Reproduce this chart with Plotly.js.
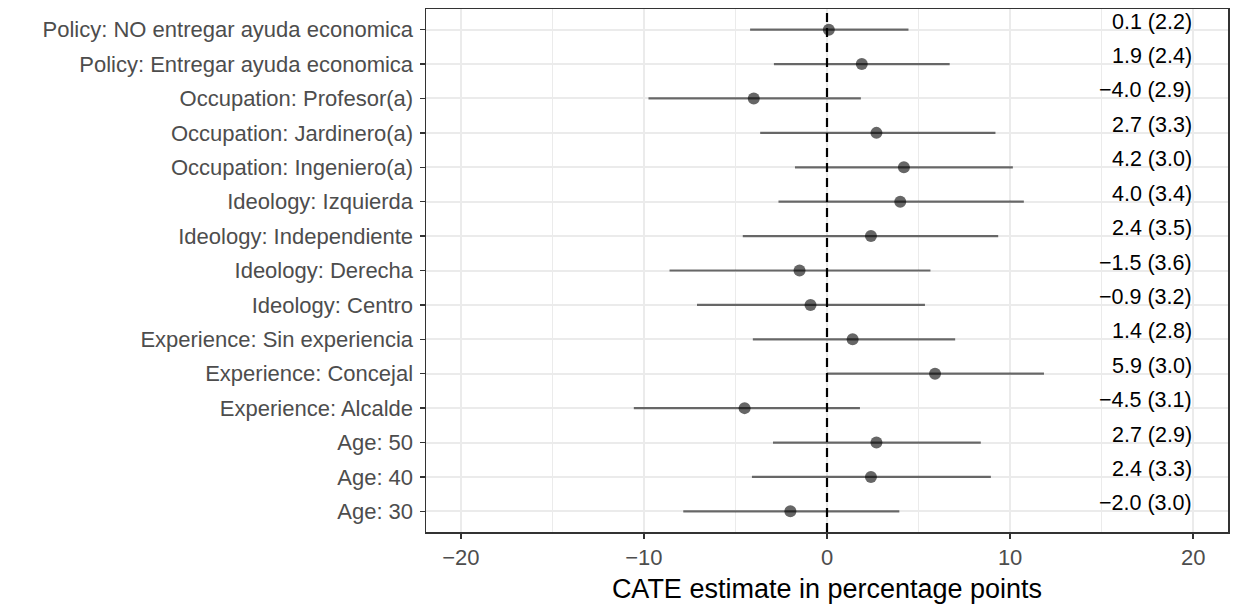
<!DOCTYPE html>
<html>
<head>
<meta charset="utf-8">
<script src="https://cdn.plot.ly/plotly-3.0.1.min.js"></script>
<style>
  html, body { margin: 0; padding: 0; background: #ffffff; }
  #chart { width: 1233px; height: 609px; }
</style>
</head>
<body>
<div id="chart"></div>
<script>
// Categories, top to bottom as shown
const categories = [
  "Policy: NO entregar ayuda economica",
  "Policy: Entregar ayuda economica",
  "Occupation: Profesor(a)",
  "Occupation: Jardinero(a)",
  "Occupation: Ingeniero(a)",
  "Ideology: Izquierda",
  "Ideology: Independiente",
  "Ideology: Derecha",
  "Ideology: Centro",
  "Experience: Sin experiencia",
  "Experience: Concejal",
  "Experience: Alcalde",
  "Age: 50",
  "Age: 40",
  "Age: 30"
];
// CATE point estimates (percentage points)
const estimate = [0.1, 1.9, -4.0, 2.7, 4.2, 4.0, 2.4, -1.5, -0.9, 1.4, 5.9, -4.5, 2.7, 2.4, -2.0];
// standard errors shown in the labels
const stdError = [2.2, 2.4, 2.9, 3.3, 3.0, 3.4, 3.5, 3.6, 3.2, 2.8, 3.0, 3.1, 2.9, 3.3, 3.0];
// interval ends
const lower = [-4.2, -2.9, -9.75, -3.65, -1.75, -2.65, -4.6, -8.6, -7.1, -4.05, 0.0, -10.55, -2.95, -4.1, -7.85];
const upper = [4.45, 6.7, 1.85, 9.2, 10.15, 10.75, 9.35, 5.65, 5.35, 7.0, 11.85, 1.8, 8.4, 8.95, 3.95];
// x tick values
const xTicks = [-20, -10, 0, 10, 20];
const xTickLabels = ["\u221220", "\u221210", "0", "10", "20"];

const fmt = v => (v < 0 ? "\u2212" : "") + Math.abs(v).toFixed(1);
const labels = estimate.map((e, i) => fmt(e) + " (" + stdError[i].toFixed(1) + ")");

const segX = [], segY = [];
categories.forEach((c, i) => { segX.push(lower[i], upper[i], null); segY.push(c, c, null); });

const FONT = "Liberation Sans, Arial, Helvetica, sans-serif";
const bottomToTop = categories.slice().reverse();
const LABEL_X = 20;

const traces = [
  {
    type: "scatter", mode: "lines", x: segX, y: segY,
    line: { color: "rgba(0,0,0,0.56)", width: 2.2 },
    hoverinfo: "skip", showlegend: false, connectgaps: false
  },
  {
    type: "scatter", mode: "markers", x: estimate, y: categories,
    marker: { color: "rgba(0,0,0,0.6)", size: 12, line: { width: 0 } },
    showlegend: false
  }
];

const annotations = categories.map((c, i) => ({
  xref: "x", yref: "y", x: LABEL_X, y: c,
  text: labels[i], showarrow: false,
  xanchor: "right", yanchor: "middle", yshift: 8, borderpad: 0,
  font: { family: FONT, size: 21.5, color: "#000000" }
}));

const layout = {
  width: 1233, height: 609,
  margin: { l: 426, r: 5, t: 9, b: 77 },
  paper_bgcolor: "#ffffff", plot_bgcolor: "#ffffff",
  font: { family: FONT, color: "#4d4d4d" },
  showlegend: false,
  xaxis: {
    range: [-21.9, 21.9],
    tickvals: xTicks, ticktext: xTickLabels,
    tickfont: { family: FONT, size: 22, color: "#4d4d4d" },
    ticks: "outside", ticklen: 5, tickwidth: 1.5, tickcolor: "#333333",
    showgrid: true, gridcolor: "#ebebeb", gridwidth: 2,
    minor: { dtick: 5, tick0: 0, showgrid: true, gridcolor: "#ebebeb", gridwidth: 1.2 },
    zeroline: false,
    showline: true, mirror: true, linecolor: "#333333", linewidth: 1.5,
    title: { text: "CATE estimate in percentage points", font: { family: FONT, size: 27, color: "#000000" }, standoff: 10 },
    automargin: false
  },
  yaxis: {
    type: "category", categoryorder: "array", categoryarray: bottomToTop,
    range: [-0.6, 14.6],
    tickfont: { family: FONT, size: 22, color: "#4d4d4d" },
    ticks: "outside", ticklen: 5, tickwidth: 1.5, tickcolor: "#333333",
    ticklabelstandoff: 2,
    showgrid: true, gridcolor: "#ebebeb", gridwidth: 2,
    zeroline: false,
    showline: true, mirror: true, linecolor: "#333333", linewidth: 1.5,
    automargin: false
  },
  annotations: annotations,
  shapes: [
    { type: "line", xref: "x", yref: "paper", x0: 0, x1: 0, y0: 0, y1: 1,
      line: { color: "#000000", width: 2.2, dash: "9px,6px" }, layer: "above" }
  ]
};

Plotly.newPlot("chart", traces, layout, { displayModeBar: false, staticPlot: true });
</script>
</body>
</html>
